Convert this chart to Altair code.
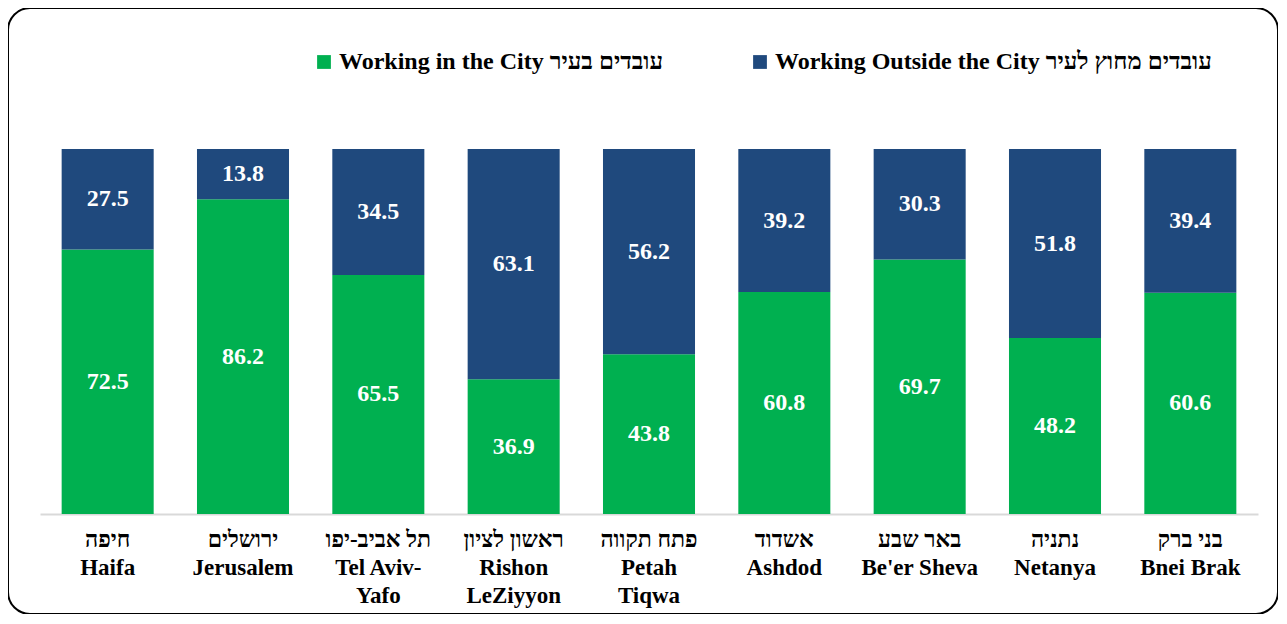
import altair as alt
import pandas as pd

# Categories (Hebrew line | English lines)
cities = [
    "חיפה|Haifa",
    "ירושלים|Jerusalem",
    "תל אביב-יפו|Tel Aviv-|Yafo",
    "ראשון לציון|Rishon|LeZiyyon",
    "פתח תקווה|Petah|Tiqwa",
    "אשדוד|Ashdod",
    "באר שבע|Be'er Sheva",
    "נתניה|Netanya",
    "בני ברק|Bnei Brak",
]
in_city = [72.5, 86.2, 65.5, 36.9, 43.8, 60.8, 69.7, 48.2, 60.6]
outside = [27.5, 13.8, 34.5, 63.1, 56.2, 39.2, 30.3, 51.8, 39.4]
series = ["Working in the City  עובדים בעיר", "Working Outside the City עובדים מחוץ לעיר"]
colors = ["#00B050", "#1F497D"]

rows = []
for c, a, b in zip(cities, in_city, outside):
    rows.append({"city": c, "series": series[0], "value": a, "o": 0})
    rows.append({"city": c, "series": series[1], "value": b, "o": 1})
df = pd.DataFrame(rows)

FONT = "Liberation Serif, Liberation Sans, DejaVu Sans"
W, H = 1270, 606

xscale = alt.Scale(domain=cities, range=[32, 1250], paddingInner=0.32, paddingOuter=0.16)
yscale = alt.Scale(domain=[0, 100], range=[506, 141], nice=False, zero=True)

base = alt.Chart(df).transform_stack(
    stack="value", groupby=["city"], as_=["v0", "v1"], sort=[alt.SortField("o")]
).transform_calculate(mid="(datum.v0 + datum.v1) / 2")

bars = base.mark_bar().encode(
    x=alt.X(
        "city:N",
        scale=xscale,
        sort=cities,
        axis=alt.Axis(
            title=None,
            labelAngle=0,
            ticks=False,
            domainColor="#D9D9D9",
            domainWidth=2,
            offset=-(H - 506),
            labelExpr="split(datum.value, '|')",
            labelFont=FONT,
            labelFontWeight="bold",
            labelFontSize=23,
            labelLineHeight=28,
            labelColor="black",
            labelPadding=14,
            labelBaseline="top",
            labelLimit=300,
        ),
    ),
    y=alt.Y("v0:Q", scale=yscale, axis=None),
    y2="v1:Q",
    color=alt.Color(
        "series:N",
        scale=alt.Scale(domain=series, range=colors),
        legend=alt.Legend(
            title=None,
            orient="none",
            legendX=304,
            legendY=42,
            direction="horizontal",
            symbolType="square",
            symbolSize=190,
            symbolStrokeWidth=0,
            symbolOpacity=1,
            labelFont=FONT,
            labelFontWeight="bold",
            labelFontSize=24,
            labelColor="black",
            labelOffset=3,
            columnPadding=78,
            labelLimit=600,
        ),
    ),
)

labels = base.mark_text(
    color="white", font=FONT, fontWeight="bold", fontSize=24, baseline="middle", align="center"
).encode(
    x=alt.X("city:N", scale=xscale, sort=cities),
    y=alt.Y("mid:Q", scale=yscale),
    text=alt.Text("value:Q", format=".1f"),
)

chart = (
    alt.layer(bars, labels)
    .properties(width=W, height=H, padding=0, autosize=alt.AutoSizeParams(type="none"))
    .configure_view(stroke="black", strokeWidth=2, cornerRadius=22)
)

chart.save("out.html", embed_options={"renderer": "svg", "actions": False})
